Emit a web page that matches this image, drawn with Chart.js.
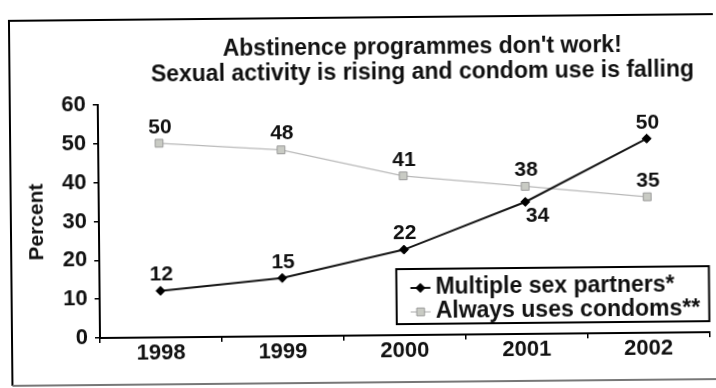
<!DOCTYPE html>
<html>
<head>
<meta charset="utf-8">
<script src="https://cdn.jsdelivr.net/npm/chart.js@4.4.1/dist/chart.umd.min.js"></script>
<style>
  html, body { margin: 0; padding: 0; background: #fff; overflow: hidden; }
  /* the printed page sits a little crooked */
  #wrap { position: relative; width: 716px; height: 388px; transform: rotate(-0.55deg); transform-origin: 100px 338px; }
</style>
</head>
<body>
<div id="wrap"><canvas id="chart" width="716" height="388"></canvas></div>
<script>
// data
const years = ['1998', '1999', '2000', '2001', '2002'];
const multiplePartners = [12, 15, 22, 34, 50];
const alwaysCondoms = [50, 48, 41, 38, 35];
const seriesNames = ['Multiple sex partners*', 'Always uses condoms**'];
const yTicks = [0, 10, 20, 30, 40, 50, 60];
const titleLines = ["Abstinence programmes don't work!", 'Sexual activity is rising and condom use is falling'];

const FONT = '"Liberation Sans", Arial, sans-serif';
const INK = '#111';

// small marker painter, used by the legend box
function marker(ctx, style, x, y, r) {
    ctx.beginPath();
    if (style === 'rectRot') {
        ctx.moveTo(x - r, y); ctx.lineTo(x, y - r); ctx.lineTo(x + r, y); ctx.lineTo(x, y + r);
    } else {
        const s = r * Math.SQRT1_2;
        ctx.rect(x - s, y - s, s * 2, s * 2);
    }
    ctx.closePath();
    ctx.fill();
    ctx.stroke();
}

// page frame + two line heading
const frameAndTitle = {
    id: 'frameAndTitle',
    beforeDraw(chart) {
        const ctx = chart.ctx;
        ctx.save();
        ctx.fillStyle = '#fff';
        ctx.fillRect(0, 0, chart.width, chart.height);
        ctx.lineWidth = 2;
        ctx.strokeStyle = '#000';
        ctx.beginPath();
        ctx.moveTo(760, 20); ctx.lineTo(12, 20); ctx.lineTo(12, 385);
        ctx.stroke();
        ctx.strokeStyle = '#777';
        ctx.beginPath();
        ctx.moveTo(12, 385); ctx.lineTo(760, 385);
        ctx.stroke();
        ctx.restore();
    },
    afterDraw(chart) {
        const ctx = chart.ctx;
        ctx.save();
        ctx.font = 'bold 23px ' + FONT;
        ctx.fillStyle = INK;
        ctx.textAlign = 'center';
        ctx.textBaseline = 'alphabetic';
        titleLines.forEach((t, i) => ctx.fillText(t, 425, 57 + i * 25));
        ctx.restore();
    }
};

// numbers next to each point; goes under the point when the other line is just above it
const valueLabels = {
    id: 'valueLabels',
    afterDatasetsDraw(chart) {
        const ctx = chart.ctx;
        ctx.save();
        ctx.font = 'bold 21px ' + FONT;
        ctx.fillStyle = INK;
        ctx.textAlign = 'center';
        ctx.textBaseline = 'middle';
        chart.data.datasets.forEach((ds, di) => {
            const other = chart.data.datasets[1 - di].data;
            chart.getDatasetMeta(di).data.forEach((pt, i) => {
                const v = ds.data[i];
                const below = other[i] > v && other[i] - v < 8;
                ctx.fillText(String(v), pt.x + (below ? 12 : 1), pt.y + (below ? 14 : -16));
            });
        });
        ctx.restore();
    }
};

// boxed legend in the lower right corner of the plot
const boxLegend = {
    id: 'boxLegend',
    afterDraw(chart) {
        const { ctx, chartArea } = chart;
        ctx.save();
        ctx.font = 'bold 23px ' + FONT;
        const textW = Math.max(...chart.data.datasets.map(d => ctx.measureText(d.label).width));
        const right = chartArea.right;
        const bottom = chartArea.bottom - 11;
        const h = 55;
        const left = right - textW - 48;
        const top = bottom - h;
        ctx.fillStyle = '#fff';
        ctx.fillRect(left, top, right - left, h);
        ctx.lineWidth = 2;
        ctx.strokeStyle = '#000';
        ctx.strokeRect(left, top, right - left, h);
        chart.data.datasets.forEach((ds, i) => {
            const y = top + 19 + i * 24;
            ctx.strokeStyle = ds.borderColor;
            ctx.lineWidth = ds.borderWidth;
            ctx.beginPath();
            ctx.moveTo(left + 14, y); ctx.lineTo(left + 34, y);
            ctx.stroke();
            ctx.fillStyle = ds.pointBackgroundColor;
            ctx.strokeStyle = ds.pointBorderColor;
            ctx.lineWidth = 1;
            marker(ctx, ds.pointStyle, left + 24, y, ds.pointRadius);
            ctx.fillStyle = INK;
            ctx.textAlign = 'left';
            ctx.textBaseline = 'middle';
            ctx.fillText(ds.label, left + 39, y);
        });
        ctx.restore();
    }
};

const tickFont = { family: FONT, size: 22, weight: 'bold', lineHeight: 1 };

new Chart(document.getElementById('chart'), {
    type: 'line',
    data: {
        labels: years,
        datasets: [
            {
                label: seriesNames[0],
                data: multiplePartners,
                borderColor: '#151515',
                borderWidth: 2,
                pointStyle: 'rectRot',
                pointRadius: 4.5,
                pointBackgroundColor: '#000',
                pointBorderColor: '#000',
                pointBorderWidth: 1,
                tension: 0
            },
            {
                label: seriesNames[1],
                data: alwaysCondoms,
                borderColor: '#b9b9b9',
                borderWidth: 1.2,
                pointStyle: 'rect',
                pointRadius: 5.5,
                pointBackgroundColor: '#c9cbc4',
                pointBorderColor: '#9a9a9a',
                pointBorderWidth: 1,
                tension: 0
            }
        ]
    },
    options: {
        responsive: false,
        animation: false,
        layout: { padding: { left: 12, right: 4, top: 105, bottom: 20 } },
        plugins: {
            legend: { display: false },
            title: { display: false },
            tooltip: { enabled: false }
        },
        scales: {
            x: {
                offset: true,
                grid: { offset: true, drawOnChartArea: false, drawTicks: true, tickLength: 5, color: '#000', lineWidth: 1.5 },
                border: { display: true, color: '#000', width: 2 },
                ticks: { color: INK, font: tickFont, padding: 0, maxRotation: 0 },
                afterFit: s => { s.height = 30; }
            },
            y: {
                min: 0,
                max: 60,
                afterBuildTicks: s => { s.ticks = yTicks.map(v => ({ value: v })); },
                grid: { drawOnChartArea: false, drawTicks: true, tickLength: 5, color: '#000', lineWidth: 1.5 },
                border: { display: true, color: '#000', width: 2 },
                ticks: { color: INK, font: tickFont, padding: 7 },
                title: {
                    display: true,
                    text: 'Percent',
                    color: INK,
                    font: { family: FONT, size: 21, weight: 'bold', lineHeight: 1 },
                    padding: { top: 16, bottom: 0 }
                },
                afterFit: s => { s.width = 88; }
            }
        }
    },
    plugins: [frameAndTitle, valueLabels, boxLegend]
});
</script>
</body>
</html>
